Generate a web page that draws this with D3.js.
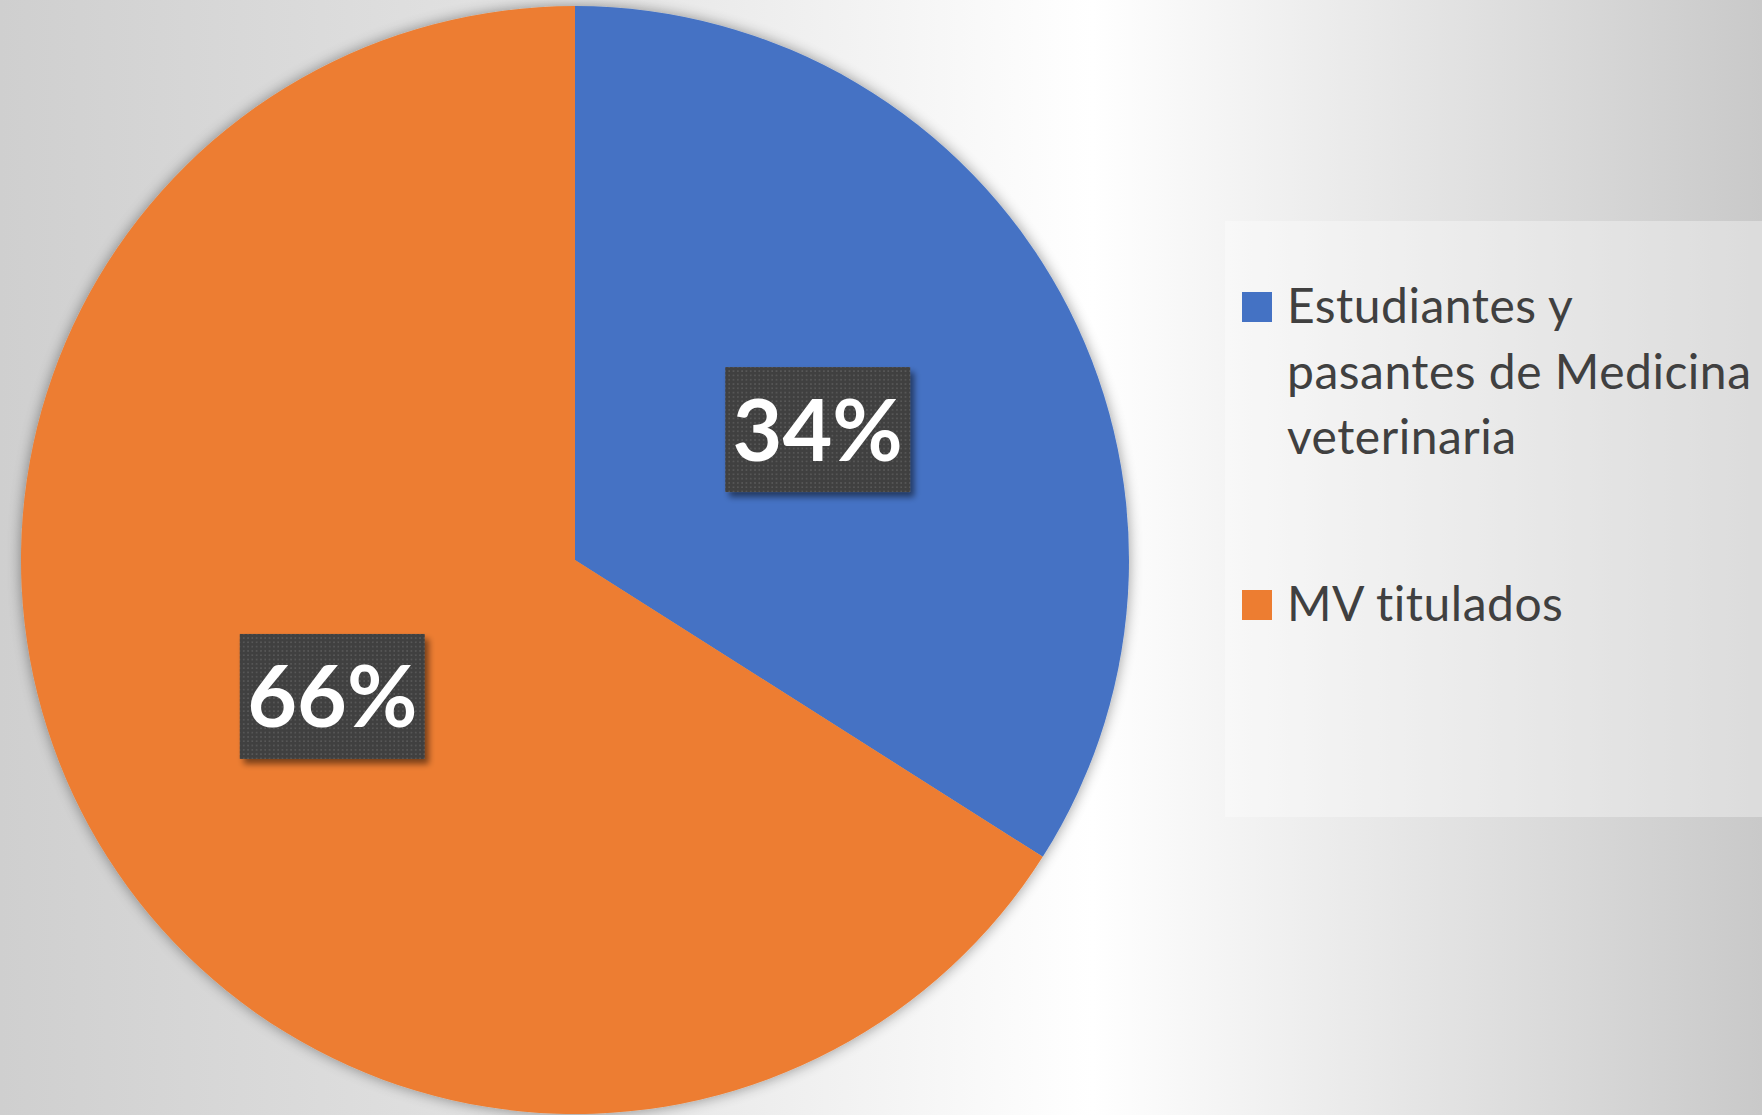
<!DOCTYPE html>
<html>
<head>
<meta charset="utf-8">
<script src="https://cdn.jsdelivr.net/npm/d3@7"></script>
<style>
  html, body { margin: 0; padding: 0; overflow: hidden; }
  body { width: 1762px; height: 1115px; }
</style>
</head>
<body>
<div class="chart"></div>
<script>
// data
var categories = ["Estudiantes y pasantes de Medicina veterinaria", "MV titulados"];
var values = [34, 66];
var labels = ["34%", "66%"];
var colors = ["#4472C4", "#ED7D31"];

var svgWidth = 1762;
var svgHeight = 1115;

var svg = d3.select(".chart")
  .append("svg")
  .attr("width", svgWidth)
  .attr("height", svgHeight);

var defs = svg.append("defs");

// background gradient: grey at the edges, white band on the right of the pie
var bg = defs.append("linearGradient")
  .attr("id", "bg")
  .attr("gradientUnits", "userSpaceOnUse")
  .attr("x1", 0).attr("y1", 0)
  .attr("x2", svgWidth).attr("y2", 0);
bg.append("stop").attr("offset", 0).attr("stop-color", "#cfcfcf");
bg.append("stop").attr("offset", 0.35).attr("stop-color", "#e6e6e6");
bg.append("stop").attr("offset", 0.62).attr("stop-color", "#ffffff");
bg.append("stop").attr("offset", 1).attr("stop-color", "#c9c9c9");

// soft shadow round the pie
var pieShadow = defs.append("filter")
  .attr("id", "pieShadow")
  .attr("x", "-10%").attr("y", "-10%")
  .attr("width", "120%").attr("height", "120%");
pieShadow.append("feGaussianBlur").attr("in", "SourceAlpha").attr("stdDeviation", 7).attr("result", "blur");
pieShadow.append("feComponentTransfer").attr("in", "blur").attr("result", "soft")
  .append("feFuncA").attr("type", "linear").attr("slope", 0.4);
var m1 = pieShadow.append("feMerge");
m1.append("feMergeNode").attr("in", "soft");
m1.append("feMergeNode").attr("in", "SourceGraphic");

// shadow for the label boxes
var boxShadow = defs.append("filter")
  .attr("id", "boxShadow")
  .attr("x", "-20%").attr("y", "-20%")
  .attr("width", "140%").attr("height", "140%");
boxShadow.append("feGaussianBlur").attr("in", "SourceAlpha").attr("stdDeviation", 3).attr("result", "blur");
boxShadow.append("feOffset").attr("in", "blur").attr("dx", 4).attr("dy", 5).attr("result", "off");
boxShadow.append("feComponentTransfer").attr("in", "off").attr("result", "soft")
  .append("feFuncA").attr("type", "linear").attr("slope", 0.5);
var m2 = boxShadow.append("feMerge");
m2.append("feMergeNode").attr("in", "soft");
m2.append("feMergeNode").attr("in", "SourceGraphic");

// dotted fill of the label boxes
var dots = defs.append("pattern")
  .attr("id", "dots")
  .attr("patternUnits", "userSpaceOnUse")
  .attr("width", 4.3).attr("height", 4.3);
dots.append("rect").attr("width", 4.3).attr("height", 4.3).attr("fill", "#404040");
dots.append("rect").attr("x", 1).attr("y", 1).attr("width", 1.6).attr("height", 1.6).attr("fill", "#5a5a5a");

svg.append("rect")
  .attr("width", svgWidth)
  .attr("height", svgHeight)
  .attr("fill", "url(#bg)");

// pie
var cx = 575, cy = 560, radius = 554;

var pie = d3.pie().sort(null).value(function(d) { return d; });
var arc = d3.arc().innerRadius(0).outerRadius(radius);
var arcs = pie(values);

var chart = svg.append("g")
  .attr("transform", "translate(" + cx + "," + cy + ")");

chart.append("g")
  .attr("filter", "url(#pieShadow)")
  .selectAll("path")
  .data(arcs)
  .enter()
  .append("path")
  .attr("d", arc)
  .attr("fill", function(d, i) { return colors[i]; });

// data labels in dark boxes at the centroid
var boxW = 185, boxH = 125;
var lab = chart.selectAll(".lab")
  .data(arcs)
  .enter()
  .append("g")
  .attr("class", "lab")
  .attr("transform", function(d) {
    var c = arc.centroid(d);
    return "translate(" + c[0] + "," + (c[1] + 3) + ")";
  });

lab.append("rect")
  .attr("x", -boxW / 2)
  .attr("y", -boxH / 2)
  .attr("width", boxW)
  .attr("height", boxH)
  .attr("fill", "url(#dots)")
  .attr("filter", "url(#boxShadow)");

lab.append("text")
  .attr("text-anchor", "middle")
  .attr("dy", "0.36em")
  .attr("font-family", "Lato, 'Open Sans', sans-serif")
  .attr("font-weight", "bold")
  .attr("font-size", 86)
  .attr("fill", "#ffffff")
  .text(function(d, i) { return labels[i]; });

// legend
var legendX = 1225, legendY = 221;
svg.append("rect")
  .attr("x", legendX)
  .attr("y", legendY)
  .attr("width", svgWidth - legendX)
  .attr("height", 596)
  .attr("fill", "#ffffff")
  .attr("opacity", 0.35);

var fontSize = 48;
var lineH = 65.5;
var textX = 1287;
var maxW = 470;
var entryTop = [323, 621];

var legend = svg.append("g")
  .attr("font-family", "Lato, 'Open Sans', sans-serif")
  .attr("font-size", fontSize)
  .attr("letter-spacing", 0.5)
  .attr("fill", "#404040");

categories.forEach(function(name, i) {
  legend.append("rect")
    .attr("x", 1242)
    .attr("y", entryTop[i] - 31)
    .attr("width", 30)
    .attr("height", 30)
    .attr("fill", colors[i]);

  var t = legend.append("text")
    .attr("x", textX)
    .attr("y", entryTop[i]);

  // wrap words by measured width
  var words = name.split(" ");
  var line = [];
  var tspan = t.append("tspan").attr("x", textX).attr("dy", 0);
  words.forEach(function(w) {
    line.push(w);
    tspan.text(line.join(" "));
    if (tspan.node().getComputedTextLength() > maxW && line.length > 1) {
      line.pop();
      tspan.text(line.join(" "));
      line = [w];
      tspan = t.append("tspan").attr("x", textX).attr("dy", lineH).text(w);
    }
  });
});
</script>
</body>
</html>
